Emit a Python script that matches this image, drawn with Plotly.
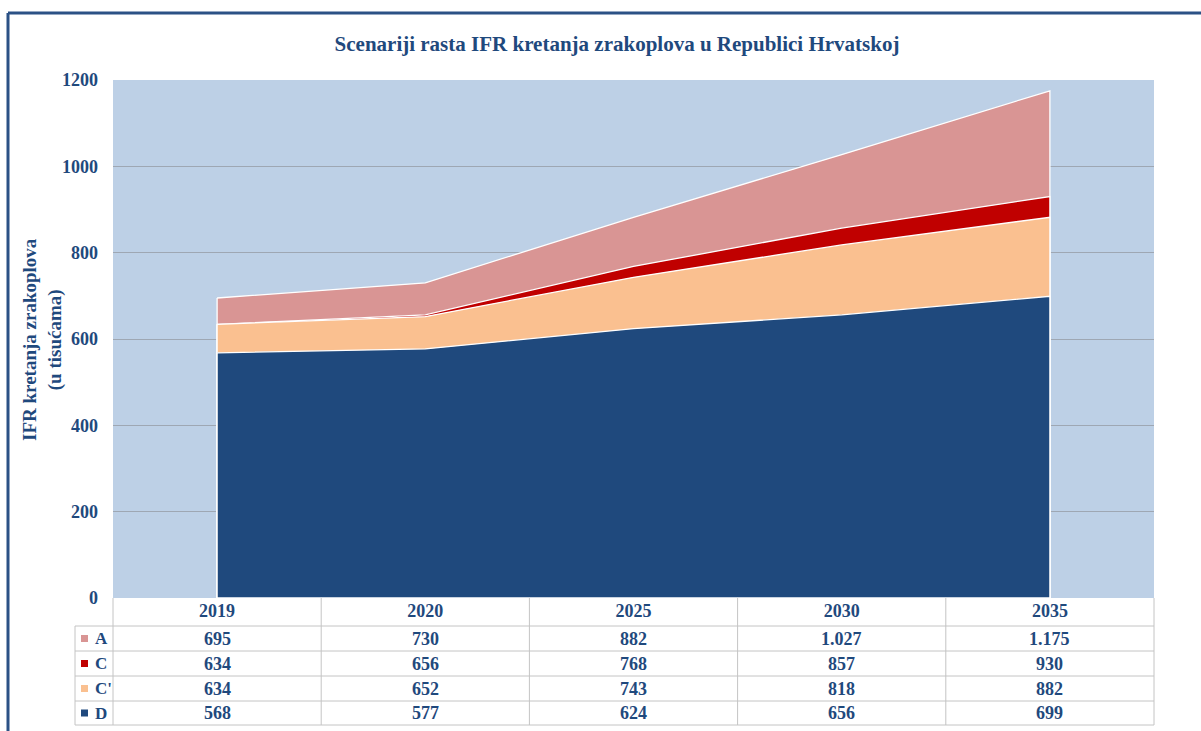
import plotly.graph_objects as go

# Scenario values (thousands of IFR flights)
years = ["2019", "2020", "2025", "2030", "2035"]
series_names = ["A", "C", "C'", "D"]
val_a = [695, 730, 882, 1027, 1175]
val_c = [634, 656, 768, 857, 930]
val_cp = [634, 652, 743, 818, 882]
val_d = [568, 577, 624, 656, 699]
y_ticks = [0, 200, 400, 600, 800, 1000, 1200]

colors = {"A": "#D99594", "C": "#C00000", "C'": "#FAC090", "D": "#1F497D"}
series = {"A": val_a, "C": val_c, "C'": val_cp, "D": val_d}

W, H = 1201, 731
ML, MR, MT, MB = 113, 47, 80, 133
PW = W - ML - MR
PH = H - MT - MB
TXT = "#1F497D"
FONT = "Liberation Serif"


def px_x(p):
    return (p - ML) / PW


def px_y(p):
    return (H - MB - p) / PH


fig = go.Figure()

xs = list(range(len(years)))
for name in series_names:
    vals = series[name]
    fig.add_trace(go.Scatter(
        x=xs + [xs[-1], xs[0], xs[0]],
        y=vals + [0, 0, vals[0]],
        mode="lines",
        fill="toself",
        fillcolor=colors[name],
        line=dict(color="white", width=1.3),
        name=name,
        showlegend=False,
        hoverinfo="skip",
    ))

shapes = []
annotations = []

# data table grid
grid_col = "#C4C4C4"
row_edges = [626, 651, 676, 701, 725]
col_edges = [ML + PW * k / len(years) for k in range(len(years) + 1)]
for yy in row_edges:
    shapes.append(dict(type="line", xref="paper", yref="paper",
                       x0=px_x(75), x1=px_x(ML + PW), y0=px_y(yy), y1=px_y(yy),
                       line=dict(color=grid_col, width=1)))
for xx in col_edges:
    shapes.append(dict(type="line", xref="paper", yref="paper",
                       x0=px_x(xx), x1=px_x(xx), y0=px_y(H - MB), y1=px_y(725),
                       line=dict(color=grid_col, width=1)))
shapes.append(dict(type="line", xref="paper", yref="paper",
                   x0=px_x(75), x1=px_x(75), y0=px_y(626), y1=px_y(725),
                   line=dict(color=grid_col, width=1)))

# table rows: legend key + values
for r, name in enumerate(series_names):
    y0, y1 = row_edges[r], row_edges[r + 1]
    yc = (y0 + y1) / 2
    shapes.append(dict(type="rect", xref="paper", yref="paper",
                       x0=px_x(81), x1=px_x(88), y0=px_y(yc - 3.5), y1=px_y(yc + 3.5),
                       fillcolor=colors[name], line=dict(width=0)))
    annotations.append(dict(text=name, xref="paper", yref="paper",
                            x=px_x(93), y=px_y(yc), xanchor="left", yanchor="middle",
                            showarrow=False,
                            font=dict(family=FONT, size=17, color=TXT, weight="bold")))
    for i, v in enumerate(series[name]):
        annotations.append(dict(text=f"{v:,}".replace(",", "."), xref="x", yref="paper",
                                x=i, y=px_y(yc), xanchor="center", yanchor="middle",
                                showarrow=False,
                                font=dict(family=FONT, size=18, color=TXT, weight="bold")))

# y-axis title
annotations.append(dict(text="IFR kretanja zrakoplova<br>(u tisućama)", xref="paper", yref="paper",
                        x=px_x(42), y=px_y(340), xanchor="center", yanchor="middle",
                        textangle=-90, showarrow=False,
                        font=dict(family=FONT, size=19, color=TXT, weight="bold")))

# outer frame
frame_col = "#2B5185"
shapes.append(dict(type="line", xref="paper", yref="paper",
                   x0=px_x(8), x1=px_x(1210), y0=px_y(13), y1=px_y(13),
                   line=dict(color=frame_col, width=3)))
shapes.append(dict(type="line", xref="paper", yref="paper",
                   x0=px_x(8), x1=px_x(8), y0=px_y(13), y1=px_y(740),
                   line=dict(color=frame_col, width=3)))

fig.update_layout(
    width=W, height=H,
    margin=dict(l=ML, r=MR, t=MT, b=MB),
    paper_bgcolor="white",
    plot_bgcolor="#BDD0E6",
    title=dict(text="Scenariji rasta IFR kretanja zrakoplova u Republici Hrvatskoj",
               x=617 / W, xanchor="center", y=1 - 44 / H, yanchor="middle",
               font=dict(family=FONT, size=21, color=TXT, weight="bold")),
    xaxis=dict(range=[-0.5, len(years) - 0.5], tickvals=xs, ticktext=years,
               showgrid=False, zeroline=False, showline=False, ticks="",
               tickfont=dict(family=FONT, size=18, color=TXT, weight="bold"),
               fixedrange=True),
    yaxis=dict(range=[0, 1200], tickvals=y_ticks, showgrid=True,
               gridcolor="#9EA7B3", gridwidth=1, zeroline=False, showline=False,
               ticks="", ticklabelstandoff=14,
               tickfont=dict(family=FONT, size=18, color=TXT, weight="bold"),
               fixedrange=True),
    shapes=shapes,
    annotations=annotations,
)

fig.write_html("out.html")
